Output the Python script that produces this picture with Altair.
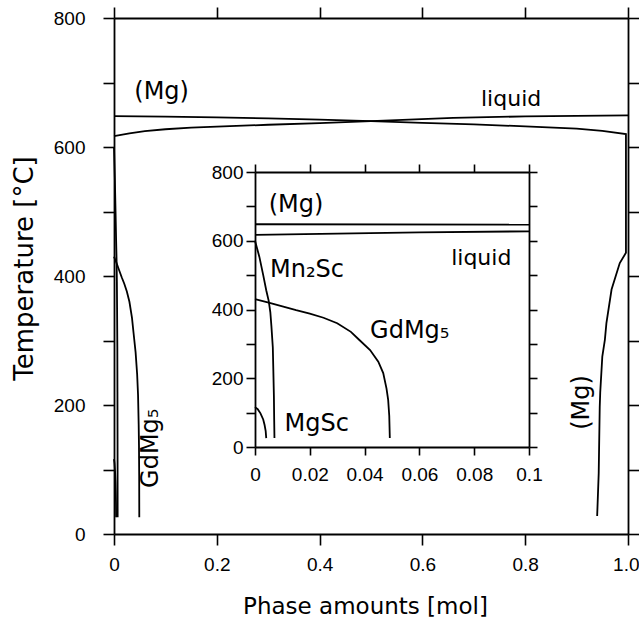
import altair as alt
import pandas as pd

# ---------------- data ----------------
# (Mg) phase amount vs temperature
mg_x = [0, 0.1, 0.2, 0.3, 0.4, 0.5, 0.6, 0.7, 0.8, 0.9, 0.95, 0.996,
        0.996, 0.984, 0.968, 0.958, 0.955, 0.950, 0.946, 0.945, 0.943, 0.940]
mg_T = [648, 647, 646, 644.5, 642.5, 640, 637.5, 635, 632, 628.5, 625, 620,
        436, 420, 379, 327, 301, 275, 220, 197, 94, 28]
# liquid
liq_x = [0, 0.03, 0.06, 0.1, 0.15, 0.2, 0.3, 0.4, 0.5, 0.66, 0.8, 1.0]
liq_T = [617, 621, 624.5, 627.5, 630, 631.5, 634.5, 637, 640, 645, 647.5, 649]
# GdMg5
gd_x = [0, 0.005, 0.01, 0.015, 0.02, 0.025, 0.03, 0.035, 0.038, 0.042, 0.045,
        0.0468, 0.048, 0.0486, 0.049, 0.0492]
gd_T = [430, 420, 409, 398, 388, 376, 360, 335, 312, 282, 248, 215, 170, 137, 90, 26]
# Mn2Sc
mn_x = [0, 0.0016, 0.003, 0.0041, 0.005, 0.0056, 0.006, 0.0065, 0.0067, 0.0069, 0.007, 0.0071]
mn_T = [600, 553, 500, 456, 425, 392, 350, 290, 220, 147, 80, 26]
# MgSc
sc_x = [0, 0.001, 0.002, 0.003, 0.0035, 0.0039, 0.0041]
sc_T = [116, 110, 98, 80, 64, 46, 26]

# annotations (data coordinates)
main_h_text = ["(Mg)"]
main_h_x = [0.0395]
main_h_T = [674]
main_liq_text = ["liquid"]
main_liq_x = [0.714]
main_liq_T = [664]
main_v_text = ["GdMg\u2085", "(Mg)"]
main_v_x = [0.072, 0.910]
main_v_T = [133, 204]
inset_h_text = ["(Mg)", "Mn\u2082Sc", "GdMg\u2085", "MgSc"]
inset_h_x = [0.0050, 0.0055, 0.042, 0.0108]
inset_h_T = [684, 495, 316, 48]
inset_liq_text = ["liquid"]
inset_liq_x = [0.0716]
inset_liq_T = [529]

main_x_ticks = [0, 0.2, 0.4, 0.6, 0.8, 1.0]
inset_x_ticks = [0, 0.02, 0.04, 0.06, 0.08, 0.1]
T_ticks = [0, 100, 200, 300, 400, 500, 600, 700, 800]

# ---------------- tables ----------------
rows = []
for name, xs, ts in [("Mg", mg_x, mg_T), ("liquid", liq_x, liq_T), ("GdMg5", gd_x, gd_T),
                     ("Mn2Sc", mn_x, mn_T), ("MgSc", sc_x, sc_T)]:
    for i, (a, b) in enumerate(zip(xs, ts)):
        rows.append({"series": name, "i": i, "x": a, "T": b})
curves = pd.DataFrame(rows)
inset_curves = curves[curves["x"] <= 0.1000001]


def tdf(texts, xs, ts):
    return pd.DataFrame({"label": texts, "x": xs, "T": ts})


# ---------------- geometry ----------------
W, H = 514, 516
IX0, IX1 = 141, 415     # inset x range (px inside plot)
IY0, IY1 = 429, 154     # inset y range (px inside plot)

FONT = "DejaVu Sans"
TICKFONT = "Liberation Sans"


def mx(axis=None):
    return alt.X("x:Q", scale=alt.Scale(domain=[0, 1], range=[0, W], nice=False, zero=False),
                 axis=axis)


def my(axis=None):
    return alt.Y("T:Q", scale=alt.Scale(domain=[0, 800], range=[H, 0], nice=False, zero=False),
                 axis=axis)


def ix(axis=None):
    return alt.X("x:Q", scale=alt.Scale(domain=[0, 0.1], range=[IX0, IX1], nice=False, zero=False),
                 axis=axis)


def iy(axis=None):
    return alt.Y("T:Q", scale=alt.Scale(domain=[0, 800], range=[IY0, IY1], nice=False, zero=False),
                 axis=axis)


Texpr = "datum.value % 200 == 0 ? datum.label : ''"

main_lines = alt.Chart(curves).mark_line(color="black", strokeWidth=1.8).encode(
    x=mx(alt.Axis(orient="bottom", values=main_x_ticks, tickSize=11,
                  labelExpr="datum.value == 0 ? '0' : format(datum.value, '.1f')",
                  labelFlush=False, labelOverlap=False, labelBaseline="alphabetic",
                  labelAlign={"condition": {"test": "datum.value == 1", "value": "right"},
                              "value": "center"},
                  labelOffset={"condition": {"test": "datum.value == 1", "value": 11},
                               "value": 0},
                  labelPadding=25, title="Phase amounts [mol]", titleFontSize=23,
                  titleX=251, titleY=79, titleBaseline="alphabetic")),
    y=my(alt.Axis(orient="left", values=T_ticks, tickSize=11, labelExpr=Texpr,
                  labelOverlap=False, labelPadding=18, labelFlush=False,
                  labelAlign="right", labelBaseline="middle",
                  title="Temperature [\u00b0C]", titleFontSize=26, titleAngle=270,
                  titleX=-82, titleY=250, titleBaseline="alphabetic")),
    detail="series:N",
    order="i:Q",
)

main_frame = alt.Chart(curves).mark_line(opacity=0).encode(
    x=mx(alt.Axis(orient="top", values=main_x_ticks, tickSize=11, labels=False, title=None)),
    y=my(alt.Axis(orient="right", values=T_ticks, tickSize=11, labels=False, title=None)),
    detail="series:N",
    order="i:Q",
)

inset_lines = alt.Chart(inset_curves).mark_line(color="black", strokeWidth=1.8).encode(
    x=ix(alt.Axis(orient="bottom", offset=-(H - IY0), values=inset_x_ticks, format="~g",
                  tickSize=8, labelFlush=False, labelOverlap=False,
                  labelBaseline="alphabetic", labelPadding=25, title=None)),
    y=iy(alt.Axis(orient="left", offset=-IX0, values=T_ticks, tickSize=9, labelExpr=Texpr,
                  labelOverlap=False, labelFlush=False, labelPadding=3,
                  labelAlign="right", labelBaseline="middle", title=None)),
    detail="series:N",
    order="i:Q",
)

inset_frame = alt.Chart(inset_curves).mark_line(opacity=0).encode(
    x=ix(alt.Axis(orient="top", offset=-IY1, values=inset_x_ticks, tickSize=8,
                  labels=False, title=None)),
    y=iy(alt.Axis(orient="right", offset=-(W - IX1), values=T_ticks, tickSize=8,
                  labels=False, title=None)),
    detail="series:N",
    order="i:Q",
)


def text_layer(df, xf, yf, size, **kw):
    return alt.Chart(df).mark_text(font=FONT, fontSize=size, color="black", **kw).encode(
        x=xf(), y=yf(), text="label:N")


t1 = text_layer(tdf(main_h_text, main_h_x, main_h_T), mx, my, 24, align="left", baseline="alphabetic")
t2 = text_layer(tdf(main_liq_text, main_liq_x, main_liq_T), mx, my, 22, align="left", baseline="alphabetic")
t3 = text_layer(tdf(main_v_text, main_v_x, main_v_T), mx, my, 24, align="center", baseline="middle", angle=270)
t4 = text_layer(tdf(inset_h_text, inset_h_x, inset_h_T), ix, iy, 24, align="left", baseline="alphabetic")
t5 = text_layer(tdf(inset_liq_text, inset_liq_x, inset_liq_T), ix, iy, 22, align="left", baseline="alphabetic")

chart = alt.layer(
    main_lines, main_frame, inset_lines, inset_frame, t1, t2, t3, t4, t5
).resolve_scale(
    x="independent", y="independent"
).resolve_axis(
    x="independent", y="independent"
).properties(
    width=W, height=H,
    autosize=alt.AutoSizeParams(type="none"),
    padding={"left": 114, "top": 18, "right": 11, "bottom": 91},
    background="white",
).configure_view(
    stroke=None
).configure_axis(
    grid=False, domainColor="black", tickColor="black", labelColor="black",
    titleColor="black", labelFont=TICKFONT, titleFont=FONT, labelFontSize=19,
    domainWidth=1.8, tickWidth=1.6, titleFontWeight="normal",
)

chart.save("out.html", embed_options={"renderer": "svg", "actions": False})
